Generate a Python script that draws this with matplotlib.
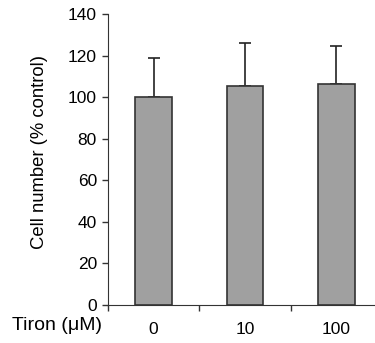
import numpy as np
import matplotlib
matplotlib.use("Agg")
import matplotlib.pyplot as plt

plt.rcParams['font.family'] = ['Liberation Sans', 'DejaVu Sans']

categories = ['0', '10', '100']
values = [100.0, 105.3, 106.2]
errors = [19.0, 20.7, 18.4]

fig = plt.figure(figsize=(3.75, 3.43), dpi=100)
# axes spans x 108..382 px, y 14..305 px (right edge runs past the image like the original)
ax = fig.add_axes([108 / 375, 1 - 305 / 343, (382 - 108) / 375, (305 - 14) / 343])

x = np.arange(len(categories))
ax.bar(x, values, width=0.4, color='#a0a0a0', edgecolor='#333333', linewidth=1.2, zorder=2)
ax.errorbar(x, values, yerr=[np.zeros(len(errors)), errors], fmt='none',
            ecolor='#222222', elinewidth=1.2, capsize=4, capthick=1.2, zorder=1)

ax.set_xlim(-0.5, 2.5)
ax.set_ylim(0, 140)
ax.set_yticks(np.arange(0, 141, 20))
ax.set_xticks(x)
ax.set_xticklabels(categories)
ax.set_xticks([-0.5, 0.5, 1.5], minor=True)
ax.tick_params(axis='x', which='major', length=0, pad=12, labelsize=12.5)
ax.tick_params(axis='x', which='minor', length=4, width=1, color='#333333')
ax.tick_params(axis='y', length=4, width=1, color='#333333', labelsize=12.5, pad=4)

for side in ['top', 'right']:
    ax.spines[side].set_visible(False)
ax.spines['left'].set_color('#333333')
ax.spines['bottom'].set_color('#333333')

ax.set_ylabel('Cell number (% control)', fontsize=13.3)
ax.yaxis.set_label_coords(48 / 375, 1 - 152 / 343, transform=fig.transFigure)
fig.text(12 / 375, 1 - 326 / 343, 'Tiron (\u03bcM)', fontsize=14, va='center', ha='left')

fig.savefig('out.png', dpi=100)
